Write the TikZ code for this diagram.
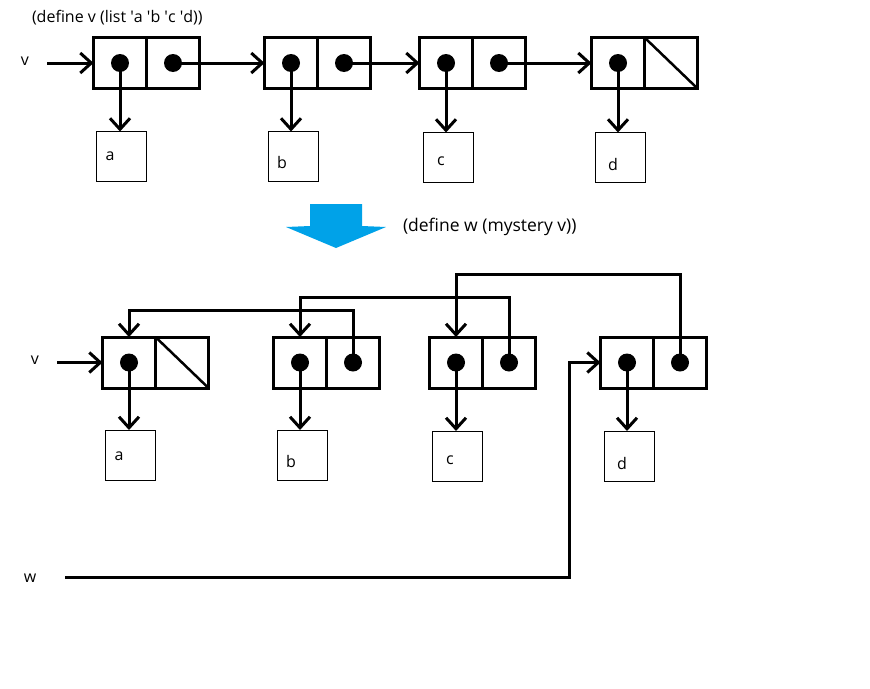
\documentclass[tikz,border=0pt]{standalone}
\usepackage{fontspec}
\setmainfont{Open Sans}
\usetikzlibrary{arrows.meta,positioning}

\def \globalscale {1.000000}

\definecolor{paintblue}{RGB}{0,162,232}

\tikzset{
  half/.style={draw=black, line width=3pt, minimum width=53pt, minimum height=51pt},
  atom/.style={draw=black, line width=0.9pt, minimum width=50pt, minimum height=50pt},
  dot/.style={circle, fill=black, minimum size=18pt},
  wire/.style={draw=black, line join=miter, line width=3pt},
  ptr/.style={wire, -{Straight Barb[length=11pt,width=20pt,line width=3pt]}},
  lbl/.style={font=\fontsize{16}{18}\selectfont}
}

\begin{document}
\begin{tikzpicture}[y=1pt, x=1pt, yscale=-\globalscale, xscale=\globalscale, inner sep=0pt, outer sep=0pt]
\useasboundingbox (0,0) rectangle (870,688);

% before: (list 'a 'b 'c 'd)
\node[lbl, anchor=west] (deflist) at (32,18) {(define v (list \textquotesingle a \textquotesingle b \textquotesingle c \textquotesingle d))};

\node[lbl] (vtop) at (25,61) {v};

\coordinate (vtail) at (47,63);



\node[half] (T1car) at (120,63) {};
\node[half, right=0pt of T1car] (T1cdr) {};

\node[half] (T2car) at (291,63) {};
\node[half, right=0pt of T2car] (T2cdr) {};

\node[half] (T3car) at (446,63) {};
\node[half, right=0pt of T3car] (T3cdr) {};

\node[half] (T4car) at (618,63) {};
\node[half, right=0pt of T4car] (T4cdr) {};

\path[wire, line width=2.5pt] (T4cdr.north west) -- (T4cdr.south east);



\node[atom] (Ta) at (121,156.5) {};
\node[atom] (Tb) at (293,156.5) {};
\node[atom] (Tc) at (448,157.5) {};
\node[atom] (Td) at (620.5,157.5) {};

\node[lbl] at (110,156) {a};
\node[lbl] at (282,162) {b};
\node[lbl] at (441,161) {c};
\node[lbl] at (613,164) {d};



\foreach \i/\s in {1/a,2/b,3/c,4/d} {
  \node[dot] (T\i a) at (T\i car.center) {};
  \path[ptr] (T\i a.center) -- (T\i a |- T\s.north);
}

\foreach \i/\j in {1/2,2/3,3/4} {
  \node[dot] (T\i d) at (T\i cdr.center) {};
  \path[ptr] (T\i d.center) -- (T\j car.west);
}

\path[ptr] (vtail) -- (T1car.west);



% the step between the two states
\path[fill=paintblue] (310,204) -- (362,204) -- (362,226) -- (386,227) -- (336,248) -- (286,227) -- (310,226) -- cycle;

\node[lbl, font=\fontsize{17.5}{19}\selectfont, anchor=west] (defmystery) at (403,227) {(define w (mystery v))};



% after: the reversed list
\node[lbl] (vbot) at (35,360) {v};
\node[lbl] (wbot) at (30,578) {w};

\coordinate (vtail2) at (57,362.5);
\coordinate (wtail) at (65,577);
\coordinate (wbend) at (569,362.5);



\node[half] (B1car) at (129,362.5) {};
\node[half, right=0pt of B1car] (B1cdr) {};

\node[half] (B2car) at (300,362.5) {};
\node[half, right=0pt of B2car] (B2cdr) {};

\node[half] (B3car) at (456,362.5) {};
\node[half, right=0pt of B3car] (B3cdr) {};

\node[half] (B4car) at (627,362.5) {};
\node[half, right=0pt of B4car] (B4cdr) {};

\path[wire, line width=2.5pt] (B1cdr.north west) -- (B1cdr.south east);



\node[atom] (Ba) at (130,455) {};
\node[atom] (Bb) at (302,455) {};
\node[atom] (Bc) at (457,456) {};
\node[atom] (Bd) at (629,456) {};

\node[lbl] at (119,456) {a};
\node[lbl] at (291,461) {b};
\node[lbl] at (450,460) {c};
\node[lbl] at (622,463) {d};



\foreach \i/\s in {1/a,2/b,3/c,4/d} {
  \node[dot] (B\i a) at (B\i car.center) {};
  \path[ptr] (B\i a.center) -- (B\i a |- B\s.north);
}

\node[dot] (B2d) at (B2cdr.center) {};
\node[dot] (B3d) at (B3cdr.center) {};
\node[dot] (B4d) at (B4cdr.center) {};

\path[ptr] (B2d.center) -- ++(0,-52) -| (B1car.north);
\path[ptr] (B3d.center) -- ++(0,-65) -| (B2car.north);
\path[ptr] (B4d.center) -- ++(0,-88) -| (B3car.north);

\path[ptr] (vtail2) -- (B1car.west);
\path[ptr] (wtail) -| (wbend) -- (B4car.west);

\end{tikzpicture}
\end{document}
